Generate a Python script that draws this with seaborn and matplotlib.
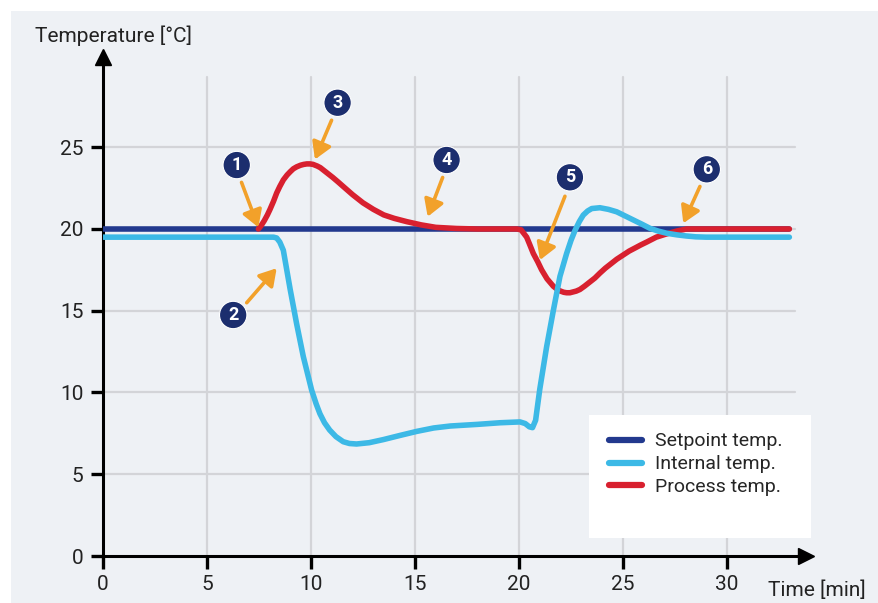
import matplotlib
matplotlib.use("Agg")
import matplotlib.pyplot as plt
from matplotlib.patches import Rectangle
import pandas as pd
import seaborn as sns

# ---------------- data ----------------
setpoint_time = [0, 33]
setpoint_temp = [20, 20]

internal_time = [0, 8.2, 8.35, 8.5, 8.67, 9.0, 9.31, 9.63, 10.03, 10.25, 10.43, 10.65, 10.9,
                 11.2, 11.55, 11.85, 12.19, 12.8, 13.48, 14.3, 15.08, 15.9, 16.7, 18.0,
                 19.1, 20.05, 20.3, 20.5, 20.65, 20.8, 21.0, 21.33, 21.65, 21.97, 22.29,
                 22.5, 22.69, 22.9, 23.09, 23.3, 23.5, 23.89, 24.3, 24.7, 25.1, 25.5, 25.9,
                 26.3, 26.7, 27.1, 27.6, 28.06, 28.5, 29.0, 33.0]
internal_temp = [19.5, 19.5, 19.45, 19.2, 18.7, 16.3, 14.2, 12.2, 10.15, 9.3, 8.7, 8.15, 7.7,
                 7.3, 6.99, 6.88, 6.85, 6.93, 7.12, 7.38, 7.62, 7.83, 7.95, 8.05,
                 8.15, 8.2, 8.1, 7.9, 7.85, 8.3, 10.2, 12.8, 15.0, 17.1, 18.5,
                 19.3, 19.9, 20.45, 20.85, 21.1, 21.25, 21.3, 21.2, 21.05, 20.8, 20.55, 20.3,
                 20.04, 19.87, 19.74, 19.64, 19.57, 19.52, 19.5, 19.5]

process_time = [7.47, 7.6, 7.75, 7.9, 8.03, 8.2, 8.35, 8.5, 8.67, 8.85, 9.0, 9.15, 9.31,
                9.5, 9.65, 9.8, 9.95, 10.1, 10.3, 10.45, 10.6, 10.8, 11.05, 11.3, 11.55,
                12.0, 12.5, 13.0, 13.5, 14.0, 14.6, 15.3, 16.0, 17.0, 18.0, 19.9, 20.1,
                20.37, 20.5, 20.69, 20.9, 21.09, 21.35, 21.65, 21.85, 22.0, 22.15, 22.29,
                22.45, 22.6, 22.75, 22.93, 23.15, 23.4, 23.65, 23.89, 24.15, 24.45, 24.7,
                25.0, 25.3, 25.6, 25.85, 26.14, 26.6, 27.1, 27.6, 28.06, 33.0]
process_temp = [20.0, 20.2, 20.5, 20.85, 21.2, 21.7, 22.2, 22.6, 23.0, 23.3, 23.5, 23.68, 23.8,
                23.9, 23.95, 23.98, 23.98, 23.95, 23.85, 23.75, 23.6, 23.4, 23.15, 22.88, 22.6,
                22.1, 21.6, 21.2, 20.86, 20.65, 20.45, 20.25, 20.1, 20.03, 20.0, 20.0, 19.95,
                19.5, 19.1, 18.5, 18.0, 17.5, 16.95, 16.5, 16.3, 16.2, 16.13, 16.1,
                16.1, 16.15, 16.2, 16.3, 16.5, 16.75, 17.0, 17.3, 17.6, 17.9, 18.15,
                18.4, 18.65, 18.85, 19.02, 19.2, 19.5, 19.7, 19.88, 20.0, 20.0]

series_names = ["Setpoint temp.", "Internal temp.", "Process temp."]
x_ticks = [0, 5, 10, 15, 20, 25, 30]
y_ticks = [0, 5, 10, 15, 20, 25]

# callouts: number, circle position, arrow tail, arrow head
callout_labels = ["1", "2", "3", "4", "5", "6"]
callout_circle = [(6.43, 23.91), (6.26, 14.74), (11.28, 27.72), (16.52, 24.22), (22.45, 23.16), (29.03, 23.65)]
callout_tail = [(6.66, 22.85), (6.91, 15.49), (10.99, 26.65), (16.33, 23.15), (22.21, 22.0), (28.7, 22.6)]
callout_head = [(7.47, 20.1), (8.35, 17.6), (10.19, 24.25), (15.61, 20.75), (21.01, 18.1), (27.9, 20.35)]

# ---------------- style ----------------
BG = "#eef1f5"
GRID = "#d3d4d8"
BLUE = "#22398e"
CYAN = "#3cb9e6"
RED = "#d8202f"
ORANGE = "#f2a12a"
NAVY = "#1c2e6e"

sns.set_theme(style="white")
plt.rcParams["font.family"] = ["Roboto", "DejaVu Sans"]
plt.rcParams["lines.solid_capstyle"] = "round"
plt.rcParams["lines.solid_joinstyle"] = "round"

fig = plt.figure(figsize=(8.79, 6.03), dpi=100, facecolor="white")
fig.patches.append(Rectangle((11 / 879, 0), 1, 1 - 11 / 603, transform=fig.transFigure,
                             facecolor=BG, edgecolor="none", zorder=-10))
ax = fig.add_axes([103 / 879, 47 / 603, 703 / 879, 498.7 / 603])
ax.set_facecolor(BG)
ax.patch.set_alpha(0)

XMAX, YMAX = 33.8, 30.5
ax.set_xlim(0, XMAX)
ax.set_ylim(0, YMAX)

# grid
for xv in x_ticks[1:]:
    ax.axvline(xv, ymin=0, ymax=29.3 / YMAX, color=GRID, lw=1.6, zorder=0)
for yv in y_ticks[1:]:
    ax.axhline(yv, xmin=0, xmax=33.27 / XMAX, color=GRID, lw=1.6, zorder=0)

df_set = pd.DataFrame({"time": setpoint_time, "temp": setpoint_temp})
df_int = pd.DataFrame({"time": internal_time, "temp": internal_temp})
df_pro = pd.DataFrame({"time": process_time, "temp": process_temp})

lw = 4.0
sns.lineplot(data=df_set, x="time", y="temp", color=BLUE, lw=lw, sort=False,
             estimator=None, ax=ax, label=series_names[0], zorder=3)
sns.lineplot(data=df_pro, x="time", y="temp", color=RED, lw=lw, sort=False,
             estimator=None, ax=ax, label=series_names[2], zorder=4)
sns.lineplot(data=df_int, x="time", y="temp", color=CYAN, lw=lw, sort=False,
             estimator=None, ax=ax, label=series_names[1], zorder=5)

# callouts
for lab, c, t, h in zip(callout_labels, callout_circle, callout_tail, callout_head):
    ax.annotate("", xy=h, xytext=t,
                arrowprops=dict(arrowstyle="-|>,head_length=0.5,head_width=0.3", color=ORANGE, lw=2.6,
                                mutation_scale=20, shrinkA=0, shrinkB=0), zorder=6)
    ax.text(c[0], c[1], lab, ha="center", va="center", color="white",
            fontsize=13, fontweight="bold", zorder=7,
            bbox=dict(boxstyle="circle,pad=0.26", facecolor=NAVY, edgecolor="white", lw=0.8))

# axes
for s in ["top", "right"]:
    ax.spines[s].set_visible(False)
for s in ["left", "bottom"]:
    ax.spines[s].set_color("black")
    ax.spines[s].set_linewidth(2.2)
ax.plot(1, 0, ">", color="black", ms=11, transform=ax.get_yaxis_transform(), clip_on=False, zorder=8)
ax.plot(0, 1, "^", color="black", ms=11, transform=ax.get_xaxis_transform(), clip_on=False, zorder=8)

ax.set_xticks(x_ticks)
ax.set_yticks(y_ticks)
ax.tick_params(axis="both", which="major", direction="out", length=9, width=2.4,
               color="black", labelsize=15, labelcolor="#222222", pad=5,
               bottom=True, left=True)
ax.set_xlabel("")
ax.set_ylabel("")
fig.text(35 / 879, 1 - 36 / 603, "Temperature [°C]", fontsize=15, ha="left", va="center", color="#222222")
fig.text(768 / 879, 1 - 590 / 603, "Time [min]", fontsize=15, ha="left", va="center", color="#222222")

# legend
ax.add_patch(Rectangle((0.692, 0.036), 0.315, 0.247, transform=ax.transAxes,
                       facecolor="white", edgecolor="none", zorder=9, clip_on=False))
handles, labels = ax.get_legend_handles_labels()
order = [labels.index(n) for n in series_names]
leg = ax.legend([handles[i] for i in order], [labels[i] for i in order],
                loc="upper left", bbox_to_anchor=(0.70, 0.275), frameon=False,
                fontsize=14, handlelength=1.7, handletextpad=0.7, labelspacing=0.25,
                borderpad=0.2)
leg.set_zorder(10)
for lh in leg.get_lines():
    lh.set_linewidth(4.5)

fig.savefig("out.png", dpi=100, facecolor="white")
